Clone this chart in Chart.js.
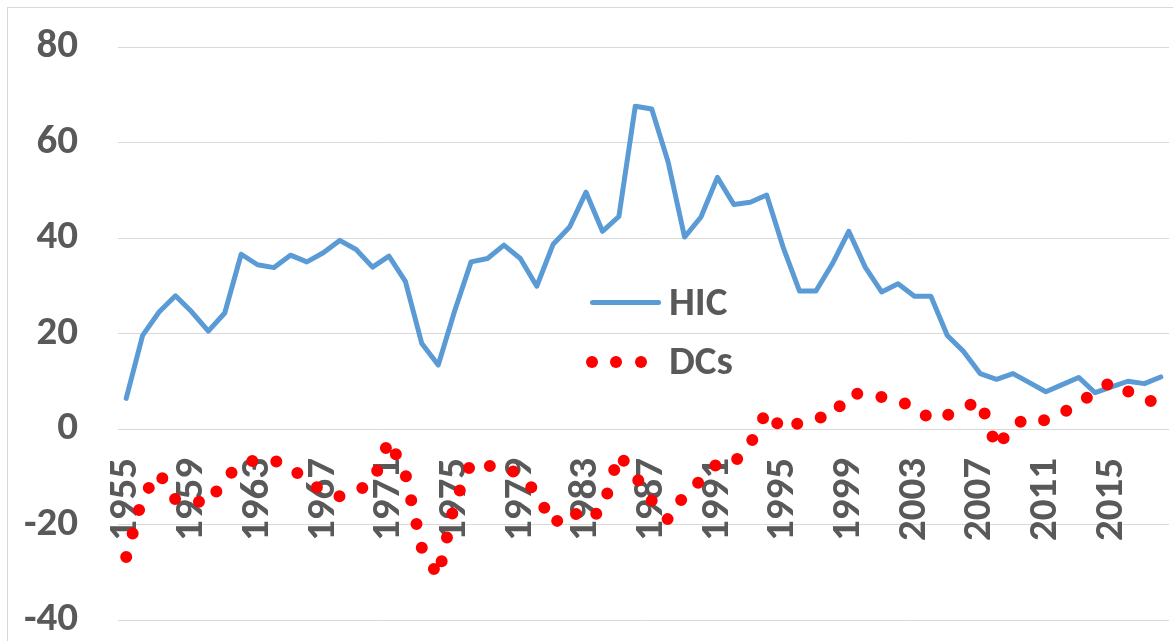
<!DOCTYPE html>
<html>
<head>
<meta charset="utf-8">
<script src="https://cdn.jsdelivr.net/npm/chart.js@4"></script>
<style>
html,body{margin:0;padding:0;background:#fff;}
#wrap{position:relative;width:1173px;height:641px;overflow:hidden;background:#fff;}
#frame{position:absolute;left:7px;top:7px;width:1300px;height:800px;border-left:1px solid #d9d9d9;border-top:1px solid #d9d9d9;}
#c{position:absolute;left:0;top:0;}
.legtext{position:absolute;font-family:Carlito,Calibri,"Liberation Sans",Arial,sans-serif;font-weight:bold;font-size:41px;line-height:41px;color:#595959;white-space:nowrap;}
.legline{position:absolute;height:5px;border-radius:3px;}
.legdot{position:absolute;width:12px;height:12px;border-radius:50%;}
</style>
</head>
<body>
<div id="wrap">
  <div id="frame"></div>
  <canvas id="c" width="1173" height="641" style="width:1173px;height:641px;"></canvas>
  <div id="legend"></div>
</div>
<script>
// ---- data ----
const years = ['1955','1956','1957','1958','1959','1960','1961','1962','1963','1964',
  '1965','1966','1967','1968','1969','1970','1971','1972','1973','1974',
  '1975','1976','1977','1978','1979','1980','1981','1982','1983','1984',
  '1985','1986','1987','1988','1989','1990','1991','1992','1993','1994',
  '1995','1996','1997','1998','1999','2000','2001','2002','2003','2004',
  '2005','2006','2007','2008','2009','2010','2011','2012','2013','2014',
  '2015','2016','2017','2018'];

const hicValues = [6.4,19.6,24.5,27.9,24.5,20.5,24.3,36.6,34.4,33.8,
  36.4,35.0,36.9,39.5,37.6,33.9,36.2,30.9,17.9,13.4,
  24.7,35.0,35.7,38.5,35.7,29.9,38.7,42.3,49.6,41.4,
  44.5,67.6,67.0,55.9,40.2,44.4,52.7,47.0,47.5,49.0,
  38.1,28.9,28.9,34.6,41.4,33.9,28.7,30.4,27.8,27.8,
  19.6,16.2,11.6,10.4,11.6,9.7,7.8,9.3,10.8,7.6,
  8.8,10.0,9.5,10.9];

const dcsValues = [-26.8,-14.2,-9.2,-14.8,-14.9,-15.7,-10.4,-7.4,-6.4,-6.6,
  -7.9,-11.0,-13.0,-14.1,-13.0,-11.3,-2.3,-9.4,-24.9,-30.9,
  -15.5,-7.1,-7.7,-8.0,-9.6,-13.5,-20.0,-16.9,-19.2,-16.9,
  -5.3,-9.8,-15.0,-19.0,-13.8,-10.7,-7.2,-7.1,-3.2,3.8,
  -0.2,1.3,2.3,2.6,7.5,7.3,6.7,5.9,4.6,2.0,
  2.9,4.4,6.0,-4.0,0.8,2.3,1.8,3.3,5.4,7.7,
  9.9,7.9,6.4,5.0];

const seriesNames = ['HIC', 'DCs'];
const yTicks = [-40, -20, 0, 20, 40, 60, 80];
const labelEvery = 4;

// ---- styles ----
const textColor = '#595959';
const gridColor = '#d9d9d9';
const fontFamily = 'Carlito, Calibri, "Liberation Sans", Arial, sans-serif';
const hicColor = '#5b9bd5';
const dcsColor = '#ff0000';

const chart = new Chart(document.getElementById('c'), {
  type: 'line',
  data: {
    labels: years,
    datasets: [
      {
        label: seriesNames[0],
        data: hicValues,
        borderColor: hicColor,
        backgroundColor: hicColor,
        borderWidth: 5,
        borderJoinStyle: 'round',
        borderCapStyle: 'round',
        pointRadius: 0,
        tension: 0,
        order: 1
      },
      {
        label: seriesNames[1],
        data: dcsValues,
        borderColor: dcsColor,
        backgroundColor: dcsColor,
        borderWidth: 12,
        borderDash: [0, 24.4],
        borderCapStyle: 'round',
        borderJoinStyle: 'round',
        pointRadius: 0,
        tension: 0,
        order: 0
      }
    ]
  },
  options: {
    responsive: false,
    animation: false,
    events: [],
    layout: { padding: { top: 47, right: 4, bottom: 21, left: 0 } },
    plugins: { legend: { display: false }, tooltip: { enabled: false } },
    scales: {
      x: {
        type: 'category',
        offset: true,
        position: { y: 0 },
        afterFit: function (scale) {
          scale.height = 0;
          scale.paddingLeft = 0; scale.paddingRight = 0;
          scale.paddingTop = 0; scale.paddingBottom = 0;
        },
        grid: { display: false, drawTicks: false },
        border: { display: false },
        ticks: {
          autoSkip: false,
          minRotation: 90,
          maxRotation: 90,
          padding: 29,
          color: textColor,
          font: { family: fontFamily, size: 41, weight: 'bold' },
          callback: function (value, index) {
            return index % labelEvery === 0 ? years[index] : null;
          }
        }
      },
      y: {
        min: yTicks[0],
        max: yTicks[yTicks.length - 1],
        afterFit: function (scale) {
          scale.width = 118;
          scale.paddingTop = 0; scale.paddingBottom = 0;
        },
        afterBuildTicks: function (scale) { scale.ticks = yTicks.map(v => ({ value: v })); },
        grid: { color: gridColor, lineWidth: 1, drawTicks: false },
        border: { display: false },
        ticks: {
          padding: 40,
          color: textColor,
          font: { family: fontFamily, size: 41, weight: 'bold' }
        }
      }
    }
  }
});

// ---- legend (HTML, built from dataset definitions) ----
(function () {
  const leg = document.getElementById('legend');
  const ds = chart.data.datasets;
  const line = document.createElement('div');
  line.className = 'legline';
  line.style.left = '590px'; line.style.top = '300px'; line.style.width = '71px';
  line.style.background = ds[0].borderColor;
  leg.appendChild(line);
  const t1 = document.createElement('div');
  t1.className = 'legtext'; t1.textContent = ds[0].label;
  t1.style.left = '669px'; t1.style.top = '281px';
  leg.appendChild(t1);
  [586, 610, 635].forEach(function (x) {
    const d = document.createElement('div');
    d.className = 'legdot';
    d.style.left = x + 'px'; d.style.top = '356px';
    d.style.background = ds[1].borderColor;
    leg.appendChild(d);
  });
  const t2 = document.createElement('div');
  t2.className = 'legtext'; t2.textContent = ds[1].label;
  t2.style.left = '669px'; t2.style.top = '340px';
  leg.appendChild(t2);
})();
</script>
</body>
</html>
